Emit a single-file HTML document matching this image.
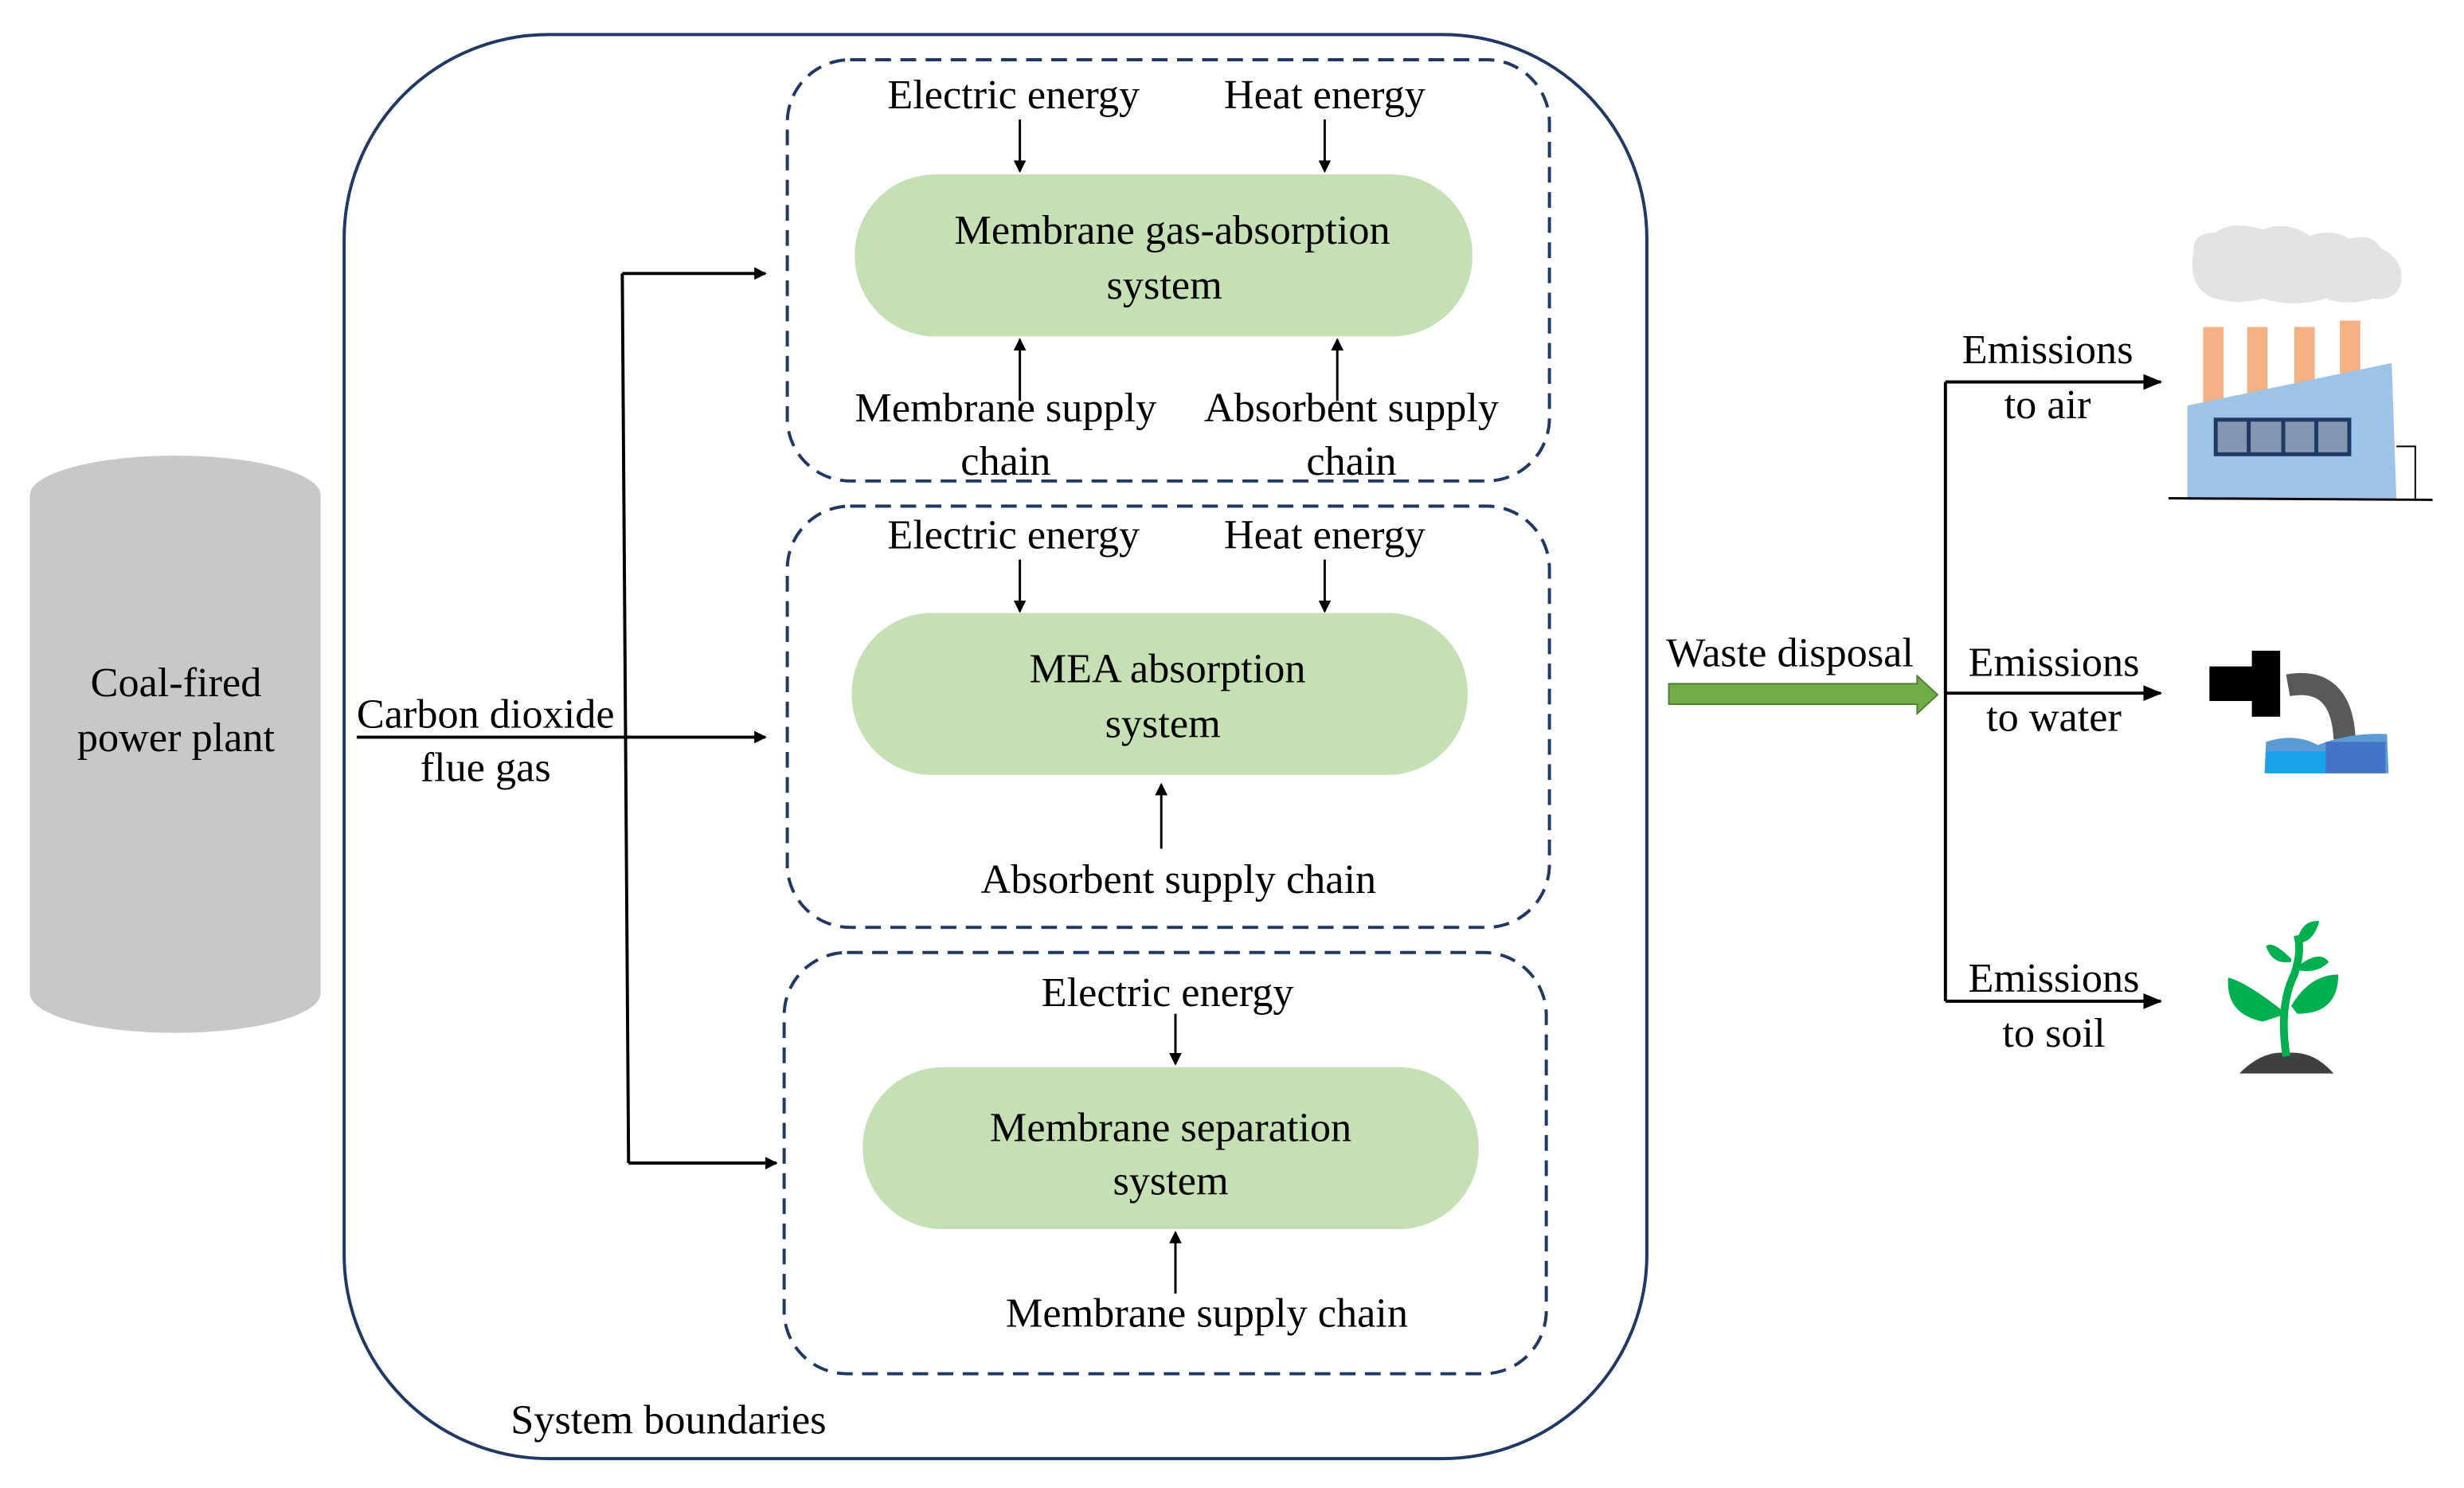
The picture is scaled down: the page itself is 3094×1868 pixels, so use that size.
<!DOCTYPE html>
<html><head><meta charset="utf-8"><style>html,body{margin:0;padding:0;background:#fff}svg{display:block}svg text{font-family:"Liberation Serif","Times New Roman",Times,"DejaVu Serif",serif !important;font-size:26.5px;fill:#000}</style></head>
<body>
<svg width="3094" height="1868" viewBox="0 0 1568 946.7" preserveAspectRatio="none" xmlns="http://www.w3.org/2000/svg" font-family="Liberation Serif, Times New Roman, serif">
<defs><marker id="ah" markerWidth="8" markerHeight="8" refX="7" refY="4" orient="auto" markerUnits="userSpaceOnUse"><path d="M0,0 L8,4 L0,8 z" fill="#000"/></marker>
<marker id="ah2" markerWidth="12" markerHeight="10" refX="11" refY="5" orient="auto" markerUnits="userSpaceOnUse"><path d="M0,0 L12,5 L0,10 z" fill="#000"/></marker></defs>
<path d="M19,315 A92,25 0 0 1 204,315 L204,632 A92,25 0 0 1 19,632 Z" fill="#c8c8c8"/>
<text x="112" y="443" text-anchor="middle">Coal-fired</text>
<text x="112" y="478" text-anchor="middle">power plant</text>
<rect x="219" y="22" width="829" height="906" rx="130" fill="none" stroke="#1f3864" stroke-width="2"/>
<text x="325" y="912">System boundaries</text>
<g fill="none" stroke="#1f3864" stroke-width="2" stroke-dasharray="10,6">
<rect x="501" y="38" width="485" height="268" rx="40"/>
<rect x="501" y="322" width="485" height="268" rx="40"/>
<rect x="499" y="606" width="485" height="268" rx="40"/>
</g>
<g fill="#c5e0b4">
<rect x="544" y="111" width="393" height="103" rx="51"/>
<rect x="542" y="390" width="392" height="103" rx="51"/>
<rect x="549" y="679" width="392" height="103" rx="51"/>
</g>
<text x="746" y="155" text-anchor="middle">Membrane gas-absorption</text>
<text x="741" y="190" text-anchor="middle">system</text>
<text x="743" y="434" text-anchor="middle">MEA absorption</text>
<text x="740" y="469" text-anchor="middle">system</text>
<text x="745" y="726" text-anchor="middle">Membrane separation</text>
<text x="745" y="760" text-anchor="middle">system</text>
<text x="645" y="69" text-anchor="middle">Electric energy</text>
<text x="843" y="69" text-anchor="middle">Heat energy</text>
<text x="645" y="349" text-anchor="middle">Electric energy</text>
<text x="843" y="349" text-anchor="middle">Heat energy</text>
<text x="743" y="640" text-anchor="middle">Electric energy</text>
<text x="640" y="268" text-anchor="middle">Membrane supply</text>
<text x="640" y="302" text-anchor="middle">chain</text>
<text x="860" y="268" text-anchor="middle">Absorbent supply</text>
<text x="860" y="302" text-anchor="middle">chain</text>
<text x="750" y="568" text-anchor="middle">Absorbent supply chain</text>
<text x="768" y="844" text-anchor="middle">Membrane supply chain</text>
<g stroke="#000" stroke-width="1.5" fill="none" marker-end="url(#ah)">
<line x1="649" y1="76" x2="649" y2="109"/><line x1="843" y1="76" x2="843" y2="109"/>
<line x1="649" y1="356" x2="649" y2="389"/><line x1="843" y1="356" x2="843" y2="389"/>
<line x1="748" y1="645" x2="748" y2="677"/>
<line x1="649" y1="255" x2="649" y2="216"/><line x1="851" y1="255" x2="851" y2="216"/>
<line x1="739" y1="540" x2="739" y2="499"/>
<line x1="748" y1="823" x2="748" y2="784"/>
</g>
<g stroke="#000" stroke-width="2" fill="none">
<line x1="396" y1="174" x2="400" y2="740"/>
<line x1="396" y1="174" x2="487" y2="174" marker-end="url(#ah)"/>
<line x1="227" y1="469" x2="487" y2="469" marker-end="url(#ah)"/>
<line x1="400" y1="740" x2="494" y2="740" marker-end="url(#ah)"/>
<line x1="1238" y1="243" x2="1238" y2="637"/>
<line x1="1238" y1="243" x2="1375" y2="243" marker-end="url(#ah2)"/>
<line x1="1238" y1="441" x2="1375" y2="441" marker-end="url(#ah2)"/>
<line x1="1238" y1="637" x2="1375" y2="637" marker-end="url(#ah2)"/>
</g>
<text x="309" y="463" text-anchor="middle">Carbon dioxide</text>
<text x="309" y="497" text-anchor="middle">flue gas</text>
<text x="1139" y="424" text-anchor="middle">Waste disposal</text>
<path d="M1062,435 L1220,435 L1220,430 L1233,442 L1220,454 L1220,448 L1062,448 Z" fill="#70ad47" stroke="#507e32" stroke-width="1"/>
<text x="1303" y="231" text-anchor="middle">Emissions</text><text x="1303" y="266" text-anchor="middle">to air</text>
<text x="1307" y="430" text-anchor="middle">Emissions</text><text x="1307" y="465" text-anchor="middle">to water</text>
<text x="1307" y="631" text-anchor="middle">Emissions</text><text x="1307" y="666" text-anchor="middle">to soil</text>
<path d="M1396,160 Q1395,148 1410,148 Q1420,140 1440,146 Q1455,140 1470,150 Q1485,145 1495,152 Q1510,148 1515,158 Q1530,165 1528,180 Q1525,192 1510,190 Q1495,195 1480,190 Q1460,196 1440,190 Q1420,195 1405,188 Q1392,180 1396,160 Z" fill="#e3e3e3"/>
<g fill="#f4b183"><rect x="1402" y="208" width="13" height="50"/><rect x="1430" y="208" width="13" height="50"/><rect x="1460" y="208" width="13" height="50"/><rect x="1489" y="204" width="13" height="50"/></g>
<path d="M1392,258 L1522,231 L1525,318 L1392,318 Z" fill="#9dc3e6"/>
<rect x="1410" y="267" width="85" height="22" fill="#8497b0" stroke="#1f3864" stroke-width="2.5"/>
<g stroke="#1f3864" stroke-width="2.5"><line x1="1431" y1="267" x2="1431" y2="289"/><line x1="1453" y1="267" x2="1453" y2="289"/><line x1="1474" y1="267" x2="1474" y2="289"/></g>
<path d="M1525,284 L1537,284 L1537,318" fill="none" stroke="#000" stroke-width="1"/>
<line x1="1380" y1="317" x2="1548" y2="318" stroke="#000" stroke-width="1.5"/>
<path d="M1456,436 Q1490,430 1492,470" fill="none" stroke="#595959" stroke-width="14"/>
<rect x="1406" y="424" width="44" height="22" fill="#000"/><rect x="1433" y="414" width="18" height="42" fill="#000"/>
<path d="M1442,472 Q1460,466 1475,474 Q1495,466 1519,467 L1520,492 L1441,492 Z" fill="#5b9bd5"/>
<rect x="1442" y="478" width="38" height="14" fill="#1aa3e8"/><rect x="1480" y="472" width="38" height="20" fill="#4472c4"/>
<path d="M1425,683 Q1440,668 1455,670 Q1472,668 1485,683 Z" fill="#404040"/>
<path d="M1455,672 Q1450,640 1460,620 Q1465,605 1462,595" fill="none" stroke="#00b050" stroke-width="5"/>
<path d="M1455,645 Q1430,625 1418,622 Q1416,645 1440,650 Z" fill="#00b050"/>
<path d="M1458,640 Q1470,620 1488,620 Q1488,645 1462,645 Z" fill="#00b050"/>
<path d="M1462,598 Q1465,585 1476,586 Q1472,600 1462,600 Z" fill="#00b050"/>
<path d="M1458,610 Q1446,598 1442,602 Q1446,614 1458,612 Z" fill="#00b050"/>
<path d="M1462,615 Q1476,604 1482,612 Q1474,620 1462,617 Z" fill="#00b050"/>
</svg>
</body></html>
